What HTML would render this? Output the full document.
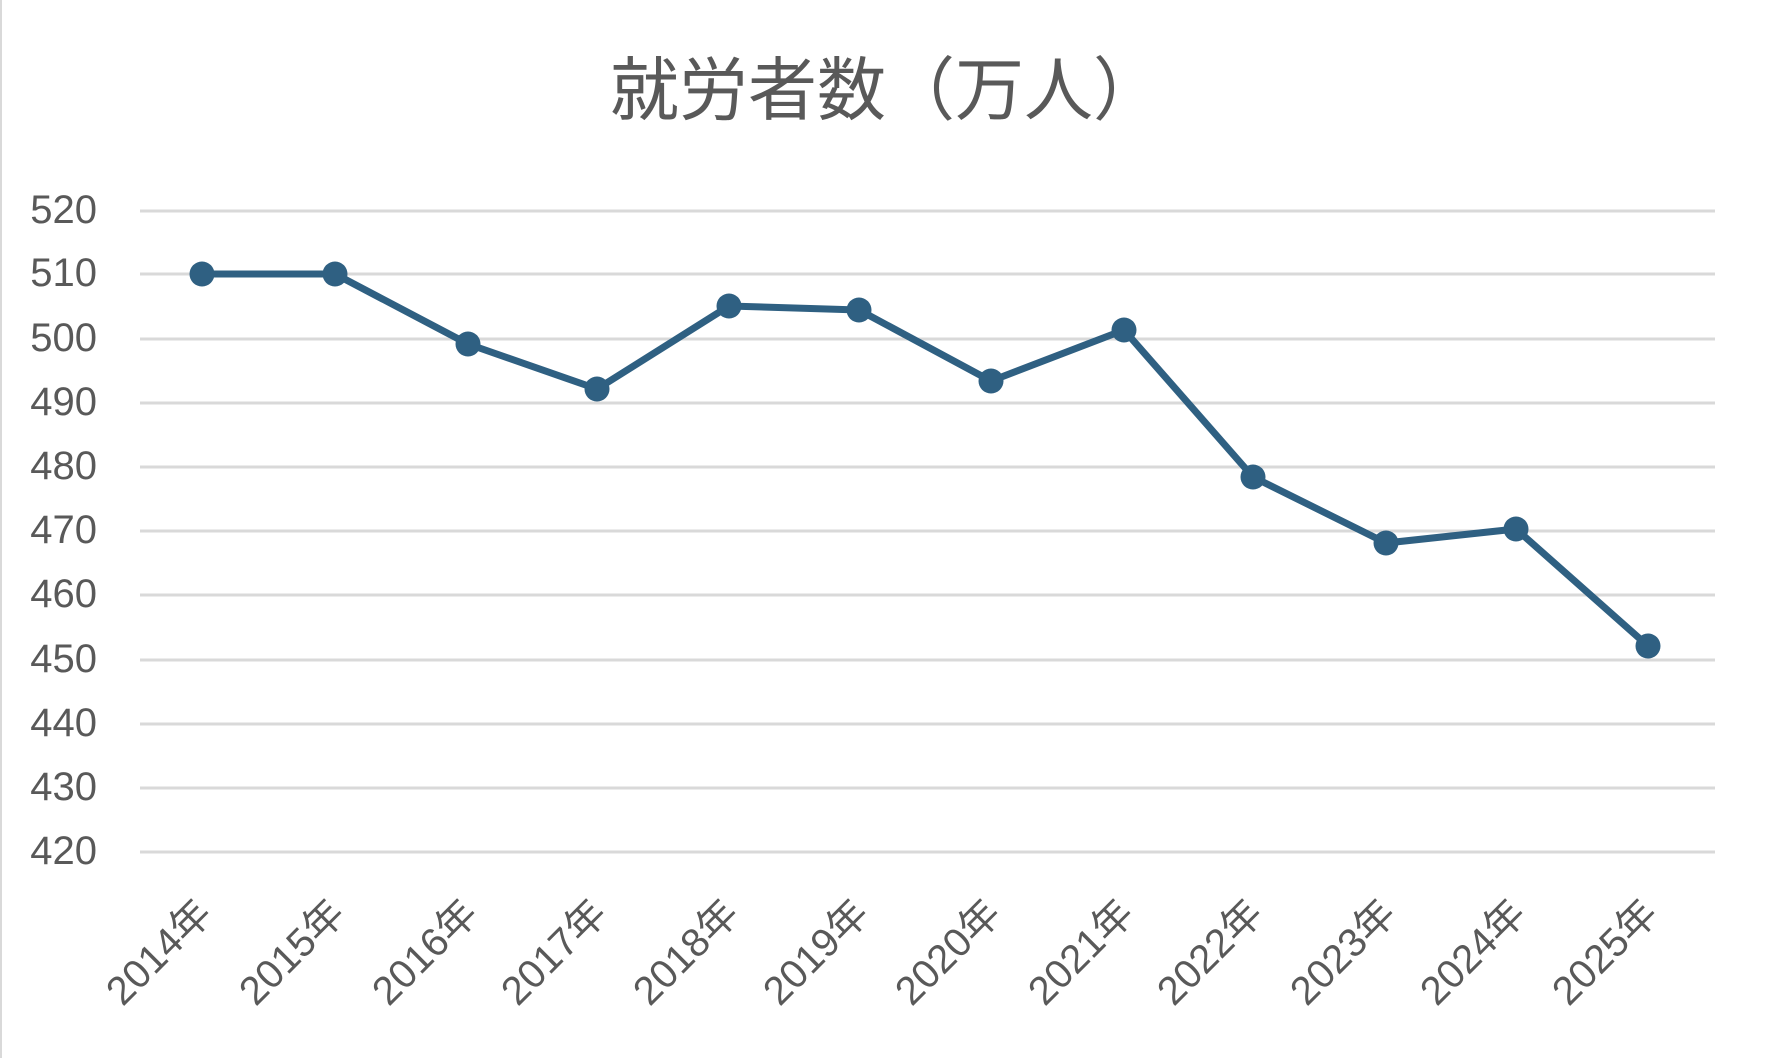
<!DOCTYPE html>
<html><head><meta charset="utf-8"><style>
html,body{margin:0;padding:0;background:#fff;}
svg{display:block;}
</style></head><body>
<svg width="1770" height="1058" viewBox="0 0 1770 1058" xmlns="http://www.w3.org/2000/svg">
<rect x="0" y="0" width="1770" height="1058" fill="#fff"/>
<line x1="1" y1="0" x2="1" y2="1058" stroke="#d9d9d9" stroke-width="2"/>
<text x="886" y="114" text-anchor="middle" font-family="'Liberation Sans','Noto Sans CJK JP',sans-serif" font-size="69" fill="#595959">就労者数（万人）</text>
<g stroke="#d9d9d9" stroke-width="3">
<line x1="140" x2="1715" y1="211" y2="211"/>
<line x1="140" x2="1715" y1="274" y2="274"/>
<line x1="140" x2="1715" y1="339" y2="339"/>
<line x1="140" x2="1715" y1="403" y2="403"/>
<line x1="140" x2="1715" y1="467" y2="467"/>
<line x1="140" x2="1715" y1="531" y2="531"/>
<line x1="140" x2="1715" y1="595" y2="595"/>
<line x1="140" x2="1715" y1="660" y2="660"/>
<line x1="140" x2="1715" y1="724" y2="724"/>
<line x1="140" x2="1715" y1="788" y2="788"/>
<line x1="140" x2="1715" y1="852" y2="852"/>
</g>
<g font-family="'Liberation Sans',sans-serif" font-size="40" fill="#595959" text-anchor="end">
<text x="97" y="223">520</text>
<text x="97" y="286">510</text>
<text x="97" y="351">500</text>
<text x="97" y="415">490</text>
<text x="97" y="479">480</text>
<text x="97" y="543">470</text>
<text x="97" y="607">460</text>
<text x="97" y="672">450</text>
<text x="97" y="736">440</text>
<text x="97" y="800">430</text>
<text x="97" y="864">420</text>
</g>
<polyline fill="none" stroke="#2f6082" stroke-width="7" stroke-linejoin="round" points="202,274 335,274 468,344 597,389 729,306 859,310 991,381 1124,330 1253,477 1386,543 1516,529 1648,646"/>
<g fill="#2f6082">
<circle cx="202" cy="274" r="12.5"/><circle cx="335" cy="274" r="12.5"/><circle cx="468" cy="344" r="12.5"/><circle cx="597" cy="389" r="12.5"/><circle cx="729" cy="306" r="12.5"/><circle cx="859" cy="310" r="12.5"/><circle cx="991" cy="381" r="12.5"/><circle cx="1124" cy="330" r="12.5"/><circle cx="1253" cy="477" r="12.5"/><circle cx="1386" cy="543" r="12.5"/><circle cx="1516" cy="529" r="12.5"/><circle cx="1648" cy="646" r="12.5"/>
</g>
<g font-family="'Liberation Sans','Noto Sans CJK JP',sans-serif" font-size="40" fill="#595959" text-anchor="end">
<text transform="translate(214,916) rotate(-45)">2014年</text>
<text transform="translate(347,916) rotate(-45)">2015年</text>
<text transform="translate(480,916) rotate(-45)">2016年</text>
<text transform="translate(609,916) rotate(-45)">2017年</text>
<text transform="translate(741,916) rotate(-45)">2018年</text>
<text transform="translate(871,916) rotate(-45)">2019年</text>
<text transform="translate(1003,916) rotate(-45)">2020年</text>
<text transform="translate(1136,916) rotate(-45)">2021年</text>
<text transform="translate(1265,916) rotate(-45)">2022年</text>
<text transform="translate(1398,916) rotate(-45)">2023年</text>
<text transform="translate(1528,916) rotate(-45)">2024年</text>
<text transform="translate(1660,916) rotate(-45)">2025年</text>
</g>
</svg>
</body></html>
